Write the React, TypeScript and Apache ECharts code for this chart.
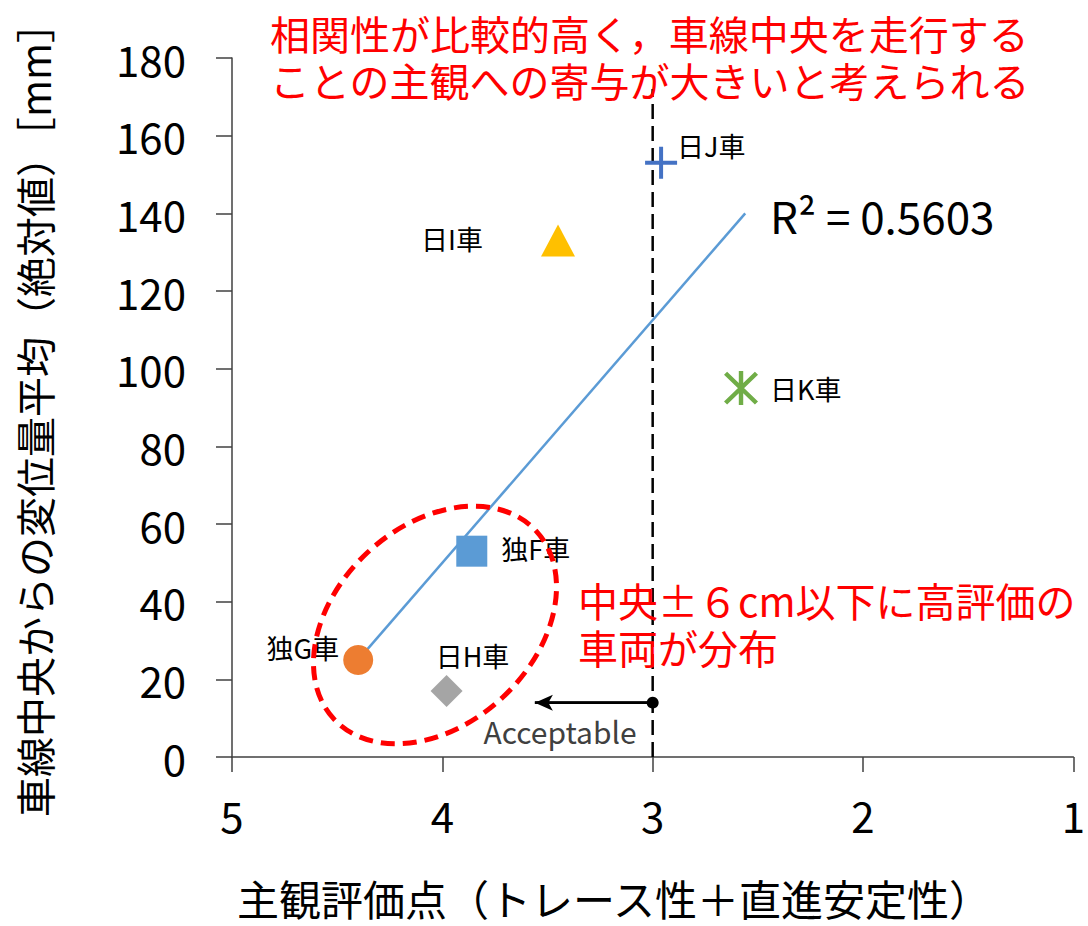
import React, { useEffect, useRef } from "react";
import * as echarts from "echarts";

// ---- data ----
const cars = ["独G車", "日H車", "独F車", "日I車", "日J車", "日K車"];
const subjectiveScore = [4.4, 3.98, 3.86, 3.45, 2.96, 2.58];
const meanDeviation = [25, 17, 53, 133, 153, 95];

// linear trend line (Excel) endpoints
const trendScore = [4.4, 2.56];
const trendDeviation = [25, 140];

// threshold line and "Acceptable" arrow
const thresholdScore = 3;
const thresholdTop = 172;
const arrowFrom = 3;
const arrowTo = 3.56;
const arrowLevel = 14;

const yTicks = { min: 0, max: 180, interval: 20 };
const xTicks = { min: 1, max: 5, interval: 1 };

const rSquaredText = "R² = 0.5603";
const noteTop = ["相関性が比較的高く，車線中央を走行する", "ことの主観への寄与が大きいと考えられる"];
const noteMid = ["中央±６cm以下に高評価の", "車両が分布"];

// ---- styling (not data) ----
const markerColors = ["#ED7D31", "#A5A5A5", "#5B9BD5", "#FFC000", "#4472C4", "#70AD47"];
const PLUS = "path://M14,0H18V14H32V18H18V32H14V18H0V14H14Z";
const ASTER =
  "path://M14,0H18V32H14Z M3.41,0.59L31.41,28.59L28.59,31.41L0.59,3.41Z M28.59,0.59L31.41,3.41L3.41,31.41L0.59,28.59Z";
const markerSymbols = ["circle", "diamond", "rect", "triangle", PLUS, ASTER];
const markerSizes: any[] = [30, 32, 31, [34, 32], 32, 34];
const labelPos: any[] = [
  { position: "left", distance: 4, offset: [0, -12] },
  { position: "top", distance: 6, offset: [26, 0] },
  { position: "right", distance: 14, offset: [0, -3] },
  { position: "left", distance: 58, offset: [0, -2] },
  { position: "right", distance: 0, offset: [0, -17] },
  { position: "right", distance: 12, offset: [0, 0] },
];

const JP = '"Noto Sans CJK JP", "Noto Sans", sans-serif';

export default function App() {
  const ref = useRef<HTMLDivElement>(null);
  useEffect(() => {
    if (!ref.current) return;
    const chart = echarts.init(ref.current, undefined, { renderer: "svg" });

    const pointSeries = cars.map((name, i) => ({
      type: "scatter",
      name,
      data: [[subjectiveScore[i], meanDeviation[i]]],
      symbol: markerSymbols[i],
      symbolSize: markerSizes[i],
      itemStyle: { color: markerColors[i], opacity: 1 },
      z: 5,
      label: {
        show: true,
        formatter: name,
        color: "#000",
        fontFamily: JP,
        fontSize: 27,
        ...labelPos[i],
      },
    }));

    const redLine = (text: string, x: number, y: number) => ({
      type: "text",
      x,
      y,
      z: 10,
      style: {
        text,
        fill: "#FF0000",
        font: `40px ${JP}`,
        lineHeight: 44,
        align: "left",
        verticalAlign: "middle",
      },
    });

    chart.setOption({
      animation: false,
      backgroundColor: "#fff",
      grid: { left: 232, right: 13, top: 58, bottom: 169, containLabel: false },
      xAxis: {
        type: "value",
        inverse: true,
        min: xTicks.min,
        max: xTicks.max,
        interval: xTicks.interval,
        splitLine: { show: false },
        axisLine: { show: true, onZero: false, lineStyle: { color: "#404040", width: 1.5 } },
        axisTick: { show: true, length: 15, lineStyle: { color: "#404040", width: 1.5 } },
        axisLabel: { color: "#000", fontFamily: JP, fontSize: 42, margin: 36 },
      },
      yAxis: {
        type: "value",
        min: yTicks.min,
        max: yTicks.max,
        interval: yTicks.interval,
        splitLine: { show: false },
        axisLine: { show: true, onZero: false, lineStyle: { color: "#404040", width: 1.5 } },
        axisTick: { show: true, length: 16, lineStyle: { color: "#404040", width: 1.5 } },
        axisLabel: { color: "#000", fontFamily: JP, fontSize: 42, margin: 46 },
      },
      series: [
        {
          type: "line",
          name: "trend",
          data: trendScore.map((x, i) => [x, trendDeviation[i]]),
          symbol: "none",
          lineStyle: { color: "#5B9BD5", width: 2.5 },
          z: 3,
          silent: true,
        },
        {
          type: "line",
          name: "threshold",
          data: [
            [thresholdScore, 0],
            [thresholdScore, thresholdTop],
          ],
          symbol: "none",
          lineStyle: { color: "#000", width: 2.5, type: [15, 7] },
          z: 2,
          silent: true,
        },
        {
          type: "line",
          name: "acceptable",
          data: [
            [arrowFrom, arrowLevel],
            [arrowTo, arrowLevel],
          ],
          symbol: "none",
          showSymbol: false,
          lineStyle: { color: "#000", width: 2.5 },
          z: 4,
          silent: true,
          markLine: {
            silent: true,
            symbol: ["circle", "arrow"],
            symbolSize: [12, 18],
            lineStyle: { color: "#000", width: 2.5, type: "solid" },
            label: { show: false },
            data: [
              [
                { coord: [arrowFrom, arrowLevel] },
                { coord: [arrowTo, arrowLevel] },
              ],
            ],
          },
        },
        ...pointSeries,
      ],
      graphic: [
        redLine(noteTop[0], 270, 33),
        redLine(noteTop[1], 270, 80),
        redLine(noteMid[0], 578, 600),
        redLine(noteMid[1], 578, 647),
        {
          type: "text",
          x: 770,
          y: 215,
          style: {
            text: rSquaredText,
            fill: "#000",
            font: `44px ${JP}`,
            align: "left",
            verticalAlign: "middle",
          },
        },
        {
          type: "text",
          x: 560,
          y: 731,
          style: {
            text: "Acceptable",
            fill: "#404040",
            font: `30px ${JP}`,
            align: "center",
            verticalAlign: "middle",
          },
        },
        {
          type: "ellipse",
          x: 435,
          y: 625,
          rotation: 0.75,
          shape: { cx: 0, cy: 0, rx: 138, ry: 99 },
          style: { fill: "none", stroke: "#FF0000", lineWidth: 5, lineDash: [14, 8] },
          z: 20,
        },
        {
          type: "text",
          x: 34,
          y: 410,
          rotation: Math.PI / 2,
          style: {
            text: "車線中央からの変位量平均（絶対値）［mm］",
            fill: "#000",
            font: `40px ${JP}`,
            lineHeight: 44,
            align: "center",
            verticalAlign: "middle",
          },
        },
        {
          type: "text",
          x: 614,
          y: 897,
          style: {
            text: "主観評価点（トレース性＋直進安定性）",
            fill: "#000",
            font: `42px ${JP}`,
            lineHeight: 44,
            align: "center",
            verticalAlign: "middle",
          },
        },
      ],
    });

    return () => chart.dispose();
  }, []);

  return <div ref={ref} style={{ width: 1088, height: 926, position: "absolute", left: 0, top: 0 }} />;
}
